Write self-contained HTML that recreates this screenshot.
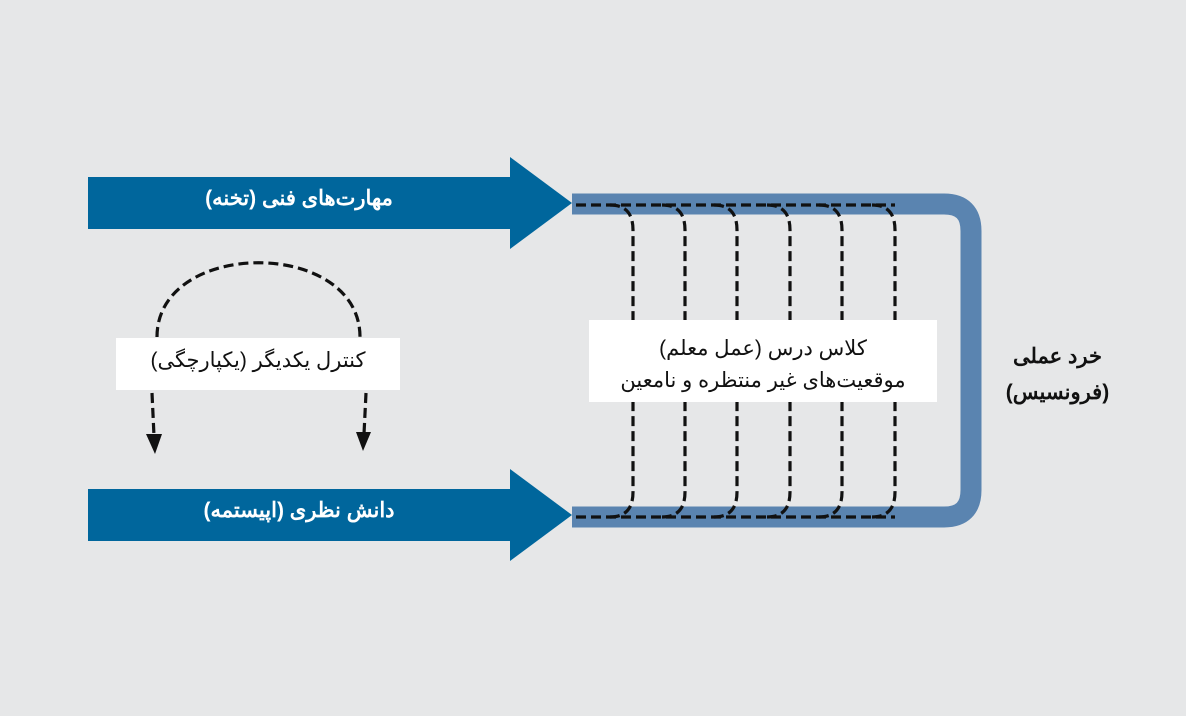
<!DOCTYPE html>
<html><head><meta charset="utf-8"><style>
html,body{margin:0;padding:0}
body{width:1186px;height:716px;background:#e6e7e8;position:relative;overflow:hidden;font-family:"Liberation Sans","Noto Sans CJK SC",sans-serif}
.t{position:absolute;direction:rtl;text-align:center;white-space:nowrap}
</style></head><body>
<svg width="1186" height="716" style="position:absolute;left:0;top:0">
<rect x="0" y="0" width="1186" height="716" fill="#e6e7e8"/>
<path d="M572 204 H944 Q971 204 971 231 V490 Q971 517 944 517 H572" fill="none" stroke="#5a84b0" stroke-width="21"/>
<polygon points="88,177 510,177 510,157 572,203 510,249 510,229 88,229" fill="#00669c"/>
<polygon points="88,489 510,489 510,469 572,515 510,561 510,541 88,541" fill="#00669c"/>
<g fill="none" stroke="#111" stroke-width="3.2" stroke-dasharray="10,5">
<path d="M576 205 H895"/>
<path d="M576 517 H895"/>
<path d="M610 205 Q633 205 633 230 V492 Q633 517 610 517"/>
<path d="M662 205 Q685 205 685 230 V492 Q685 517 662 517"/>
<path d="M714 205 Q737 205 737 230 V492 Q737 517 714 517"/>
<path d="M767 205 Q790 205 790 230 V492 Q790 517 767 517"/>
<path d="M819 205 Q842 205 842 230 V492 Q842 517 819 517"/>
<path d="M872 205 Q895 205 895 230 V492 Q895 517 872 517"/>
<path d="M157 337 C157 238 360 238 360 337"/>
<path d="M152 393 L154 436"/>
<path d="M366 393 L364 434"/>
</g>
<polygon points="146,434 162,434 155,454" fill="#111"/>
<polygon points="356,432 371,432 363,451" fill="#111"/>
<rect x="589" y="320" width="348" height="82" fill="#fff"/>
<rect x="116" y="338" width="284" height="52" fill="#fff"/>
</svg>
<div class="t" style="left:88px;top:186px;width:422px;color:#fff;font-weight:bold;font-size:21px">مهارت‌های فنی (تخنه)</div>
<div class="t" style="left:88px;top:498px;width:422px;color:#fff;font-weight:bold;font-size:21px">دانش نظری (اپیستمه)</div>
<div class="t" style="left:116px;top:348px;width:284px;color:#111;font-size:21px">کنترل یکدیگر (یکپارچگی)</div>
<div class="t" style="left:589px;top:333px;width:348px;color:#111;font-size:21px;line-height:32px">کلاس درس (عمل معلم)<br>موقعیت‌های غیر منتظره و نامعین</div>
<div class="t" style="left:995px;top:339px;width:125px;color:#111;font-weight:bold;font-size:21px;line-height:36px">خرد عملی<br>(فرونسیس)</div>
</body></html>
